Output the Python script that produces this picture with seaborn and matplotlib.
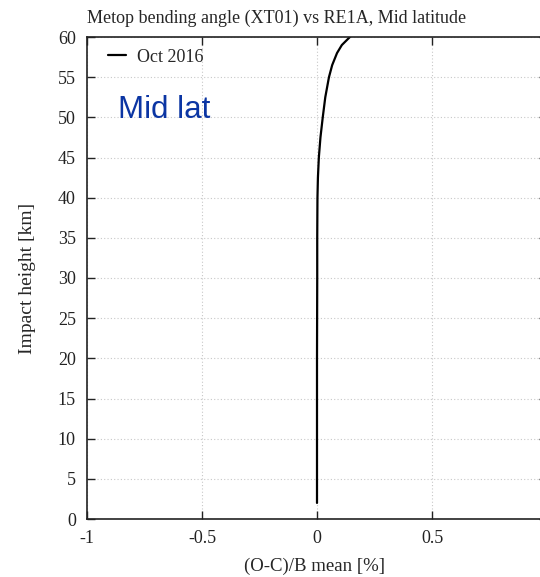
import matplotlib
matplotlib.use("Agg")
import matplotlib.pyplot as plt
import seaborn as sns
import pandas as pd

heights = [2, 10, 20, 30, 35, 40, 42.5, 45, 47.5, 50, 52.5, 55, 56.5, 58, 59, 60]
values = [0.0, 0.0, 0.0, 0.001, 0.001, 0.002, 0.004, 0.008, 0.015, 0.025, 0.036, 0.052, 0.066, 0.087, 0.108, 0.143]
series_label = "Oct 2016"
x_ticks = [-1, -0.5, 0, 0.5]
x_ticklabels = ["-1", "-0.5", "0", "0.5"]
y_ticks = list(range(0, 61, 5))

df = pd.DataFrame({"h": heights, "v": values, "s": series_label})

sns.set_style("ticks")
plt.rcParams["font.family"] = ["Liberation Serif", "DejaVu Serif"]

fig = plt.figure(figsize=(5.4, 5.77), dpi=100)
W, H = 540, 577
ax = fig.add_axes([87 / W, (H - 519) / H, 460 / W, (519 - 37) / H])

sns.lineplot(data=df, x="v", y="h", hue="s", palette=["black"], sort=False,
             orient="y", ax=ax, linewidth=1.6, estimator=None)

ax.set_xlim(-1, 1)
ax.set_ylim(0, 60)
ax.set_xticks(x_ticks)
ax.set_xticklabels(x_ticklabels)
ax.set_yticks(y_ticks)
ax.grid(True, linestyle=(0, (1, 2)), color="#c8c8c8", linewidth=0.8)
ax.tick_params(direction="in", length=6, width=1, top=True, right=True,
               labelsize=13, colors="#222222", pad=8)
for sp in ax.spines.values():
    sp.set_visible(True)
    sp.set_linewidth(1.2)
    sp.set_color("#222222")

ax.set_xlabel("(O-C)/B mean [%]", fontsize=13.5)
ax.xaxis.set_label_coords((315 - 87) / 460, -(566 - 519) / (519 - 37))
ax.xaxis.label.set_va("center")
ax.set_ylabel("Impact height [km]", fontsize=14, labelpad=16)
fig.text(87 / W, 1 - 18 / H, "Metop bending angle (XT01) vs RE1A, Mid latitude",
         fontsize=13.0, va="center", ha="left")

leg = ax.legend(loc="upper left", frameon=False, fontsize=13, handlelength=1.0,
                handletextpad=0.6, borderaxespad=0.25, bbox_to_anchor=(0.02, 1.0))

ax.text(118 / W, 1 - 110 / H, "Mid lat", transform=fig.transFigure,
        fontsize=22.5, color="#0b35a3", family="Liberation Sans", va="center", ha="left")

fig.savefig("out.png", dpi=100)
